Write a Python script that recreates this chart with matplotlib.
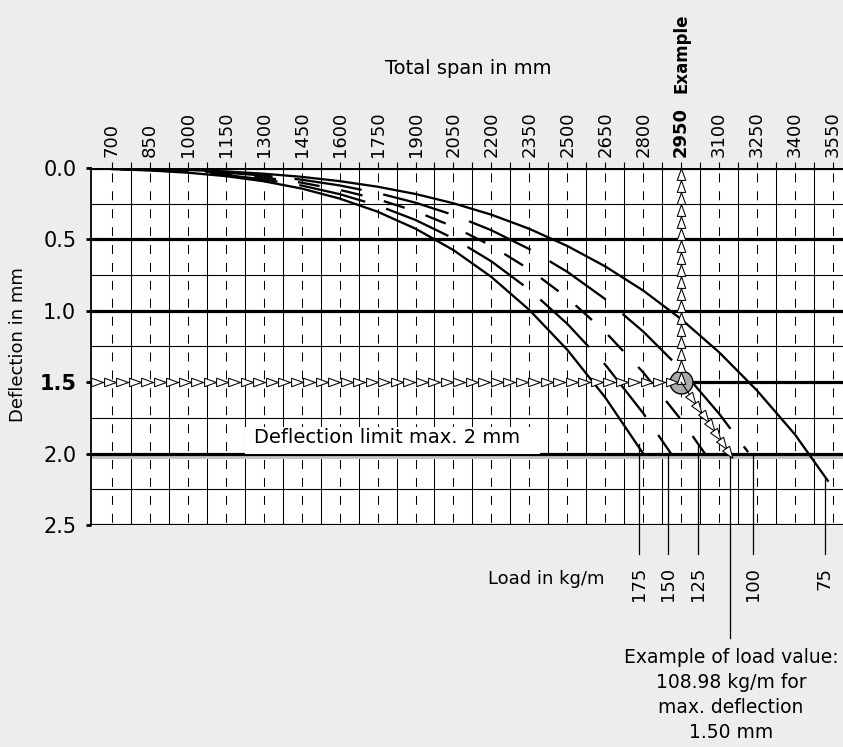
import numpy as np
import matplotlib
matplotlib.use("Agg")
import matplotlib.pyplot as plt
from matplotlib.markers import MarkerStyle
from matplotlib.path import Path
from matplotlib.transforms import Affine2D
from matplotlib.patches import Rectangle

plt.rcParams['font.family'] = ['DejaVu Sans']

# ---------------- data ----------------
span_ticks = [700, 850, 1000, 1150, 1300, 1450, 1600, 1750, 1900, 2050,
              2200, 2350, 2500, 2650, 2800, 2950, 3100, 3250, 3400, 3550]
span_mid = [775, 925, 1075, 1225, 1375, 1525, 1675, 1825, 1975, 2125,
            2275, 2425, 2575, 2725, 2875, 3025, 3175, 3325, 3475]
defl_major = [0.0, 0.5, 1.0, 1.5, 2.0, 2.5]
defl_major_labels = ['0.0', '0.5', '1.0', '1.5', '2.0', '2.5']
defl_minor = [0.25, 0.75, 1.25, 1.75, 2.25]

span_175 = [700, 850, 1000, 1150, 1300, 1450, 1600, 1750, 1900, 2050, 2200,
            2350, 2500, 2650, 2800]
defl_175 = [0.008, 0.017, 0.033, 0.057, 0.093, 0.144, 0.214, 0.306, 0.425,
            0.575, 0.763, 0.994, 1.273, 1.607, 2.00]

span_150 = [700, 850, 1000, 1150, 1300, 1450, 1600, 1750, 1900, 2050, 2200,
            2350, 2500, 2650, 2800, 2910]
defl_150 = [0.007, 0.015, 0.028, 0.049, 0.080, 0.123, 0.183, 0.262, 0.364,
            0.493, 0.654, 0.852, 1.091, 1.377, 1.717, 2.00]

span_125 = [700, 850, 1000, 1150, 1300, 1450, 1600, 1750, 1900, 2050, 2200,
            2350, 2500, 2650, 2800, 2950, 3060]
defl_125 = [0.006, 0.012, 0.023, 0.041, 0.066, 0.103, 0.153, 0.218, 0.303,
            0.411, 0.545, 0.710, 0.909, 1.148, 1.431, 1.763, 2.04]

span_100 = [700, 850, 1000, 1150, 1300, 1450, 1600, 1750, 1900, 2050, 2200,
            2350, 2500, 2650, 2800, 2950, 3100, 3215]
defl_100 = [0.004, 0.010, 0.019, 0.033, 0.053, 0.082, 0.122, 0.175, 0.243,
            0.329, 0.436, 0.568, 0.727, 0.918, 1.145, 1.410, 1.720, 1.99]

span_75 = [700, 850, 1000, 1150, 1300, 1450, 1600, 1750, 1900, 2050, 2200,
           2350, 2500, 2650, 2800, 2950, 3100, 3250, 3400, 3530]
defl_75 = [0.003, 0.007, 0.014, 0.024, 0.040, 0.062, 0.092, 0.131, 0.182,
           0.247, 0.327, 0.426, 0.546, 0.689, 0.858, 1.058, 1.290, 1.558,
           1.866, 2.19]

load_labels = ['175', '150', '125', '100', '75']
leader_span = [2783, 2898, 3016, 3233, 3518]
leader_top = [1.93, 2.00, 1.93, 2.02, 2.18]
leader_bottom = 2.70

example_span = 2950
example_defl = 1.50
example_end_span = 3150
example_end_defl = 2.02
example_leader_span = 3143
example_leader_bottom = 3.29

# ---------------- figure ----------------
W, H = 843, 747
fig = plt.figure(figsize=(W / 100, H / 100), dpi=100, facecolor='#ededed')


def fx(px):
    return px / W


def fy(py):
    return 1 - py / H


ax = fig.add_axes([fx(91), fy(525), (843 - 91) / W, (525 - 168) / H])
ax.set_facecolor('white')
ax.set_xlim(617, 3590)
ax.set_ylim(2.5, 0.0)
for s in ['top', 'right', 'bottom']:
    ax.spines[s].set_visible(False)
ax.spines['left'].set_linewidth(1.3)
ax.spines['left'].set_zorder(6)

# grid: solid and dashed verticals
for s in span_mid:
    ax.plot([s, s], [0, 2.5], color='black', lw=0.75, zorder=1)
for s in span_ticks:
    ax.plot([s, s], [0, 2.5], color='black', lw=0.75, zorder=1,
            linestyle=(12.5, (8.6, 8.6)))
# horizontal lines
for d in defl_minor:
    ax.axhline(d, color='black', lw=0.8, zorder=1.2)
ax.axhspan(2.0, 2.037, color='#c4c4c4', lw=0, zorder=1.4)
for d in defl_major:
    if d == 1.5:
        ax.plot([example_span, 3590], [d, d], color='black', lw=2.3,
                zorder=1.5, solid_capstyle='butt')
    else:
        ax.axhline(d, color='black', lw=2.3, zorder=1.5)

# deflection limit box
ax.add_patch(Rectangle((1226, 1.814), 2392 - 1226, 2.0 - 1.814,
                       facecolor='white', edgecolor='none', zorder=2))
ax.text(1262, 1.89, 'Deflection limit max. 2 mm', fontsize=14,
        va='center', ha='left', zorder=2.1)

# curves
lw_c = 1.65
ax.plot(span_175, defl_175, color='black', lw=lw_c, zorder=3)
ax.plot(span_150, defl_150, color='black', lw=lw_c, zorder=3,
        linestyle=(35.8, (29.7, 9.6)))
ax.plot(span_125, defl_125, color='black', lw=lw_c, zorder=3,
        linestyle=(14.6, (9.6, 9.6)))
ax.plot(span_100, defl_100, color='black', lw=lw_c, zorder=3,
        linestyle=(38.1, (29.7, 9.6)))
ax.plot(span_75, defl_75, color='black', lw=lw_c, zorder=3)

# leaders and load labels
for lab, s, t in zip(load_labels, leader_span, leader_top):
    ax.plot([s, s], [t, leader_bottom], color='black', lw=0.9, zorder=3,
            clip_on=False)
    ax.text(s, 2.794, lab, rotation=90, ha='center', va='top', fontsize=13,
            clip_on=False)
ax.plot([example_leader_span, example_leader_span],
        [example_end_defl, example_leader_bottom], color='black', lw=0.9,
        zorder=3, clip_on=False)

# example construction
tri = Path([(-1, -0.72), (1, 0), (-1, 0.72), (-1, -0.72)],
           [Path.MOVETO, Path.LINETO, Path.LINETO, Path.CLOSEPOLY])
m_right = MarkerStyle(tri)
m_up = MarkerStyle(tri, transform=Affine2D().rotate_deg(90))
m_diag = MarkerStyle(tri, transform=Affine2D().rotate_deg(-55))
mk = dict(markersize=8.5, markerfacecolor='white', markeredgecolor='black',
          markeredgewidth=0.75, linestyle='none', zorder=5)

ax.plot(example_span, example_defl, 'o', markersize=16.5,
        markerfacecolor='#aaaaaa', markeredgecolor='black',
        markeredgewidth=1.0, zorder=4)

hx = np.linspace(641, 2913, 47)
ax.plot([617, example_span], [example_defl, example_defl], color='black',
        lw=0.8, zorder=5)
ax.plot(hx, np.full_like(hx, example_defl), marker=m_right, **mk)

vy = np.linspace(0.04, 1.47, 18)
ax.plot([example_span, example_span], [0, example_defl], color='black',
        lw=0.8, zorder=5)
ax.plot(np.full_like(vy, example_span), vy, marker=m_up, **mk)

ax.plot([example_span, example_end_span], [example_defl, example_end_defl],
        color='black', lw=0.8, zorder=5)
f = np.linspace(0.22, 0.95, 7)
ax.plot(example_span + f * (example_end_span - example_span),
        example_defl + f * (example_end_defl - example_defl),
        marker=m_diag, **mk)

# ticks
ax.xaxis.tick_top()
ax.set_xticks(span_ticks)
ax.set_xticks(span_mid, minor=True)
ax.set_xticklabels([str(s) for s in span_ticks], rotation=90, fontsize=13)
ax.tick_params(axis='x', which='both', length=4.3, width=0.8, pad=3.6,
               top=True, bottom=False, labeltop=True, labelbottom=False)
ax.set_yticks(defl_major)
ax.set_yticklabels(defl_major_labels, fontsize=15)
ax.tick_params(axis='y', length=3.6, width=2, pad=7)
ax.get_xticklabels()[span_ticks.index(2950)].set_fontweight('bold')
ax.get_yticklabels()[3].set_fontweight('bold')

# texts
fig.text(fx(468), fy(68), 'Total span in mm', ha='center', va='center',
         fontsize=14)
fig.text(fx(682), fy(93), 'Example', rotation=90, ha='center', va='bottom',
         fontsize=12, fontweight='bold')
fig.text(fx(18), fy(345), 'Deflection in mm', rotation=90, ha='center',
         va='center', fontsize=13)
fig.text(fx(604), fy(579), 'Load in kg/m', ha='right', va='center',
         fontsize=13)
fig.text(fx(731), fy(648), 'Example of load value:\n108.98 kg/m for\n'
         'max. deflection\n1.50 mm', ha='center', va='top', fontsize=13.5,
         linespacing=1.4)

fig.savefig('out.png', dpi=100, facecolor=fig.get_facecolor())
